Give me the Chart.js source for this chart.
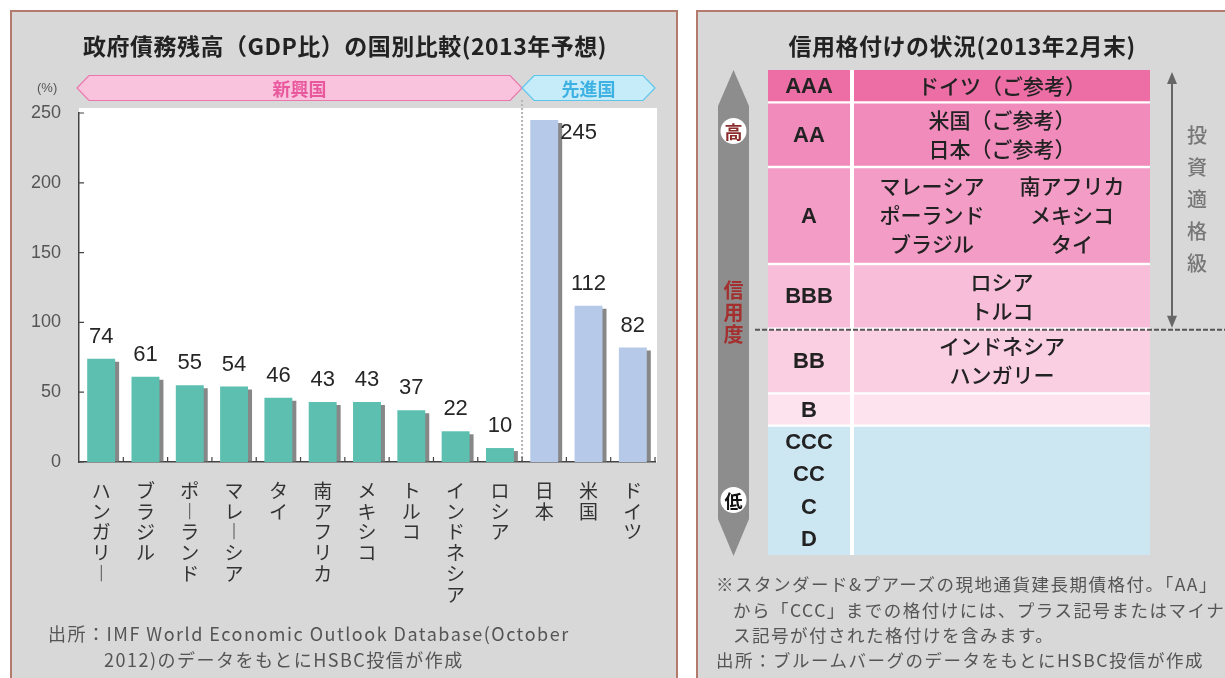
<!DOCTYPE html>
<html>
<head>
<meta charset="utf-8">
<script src="https://cdn.jsdelivr.net/npm/chart.js@4.4.1/dist/chart.umd.min.js"></script>
<style>
  body { margin: 0; width: 1225px; height: 678px; overflow: hidden; background: #fff; position: relative;
         font-family: "Noto Sans CJK JP", sans-serif; }
  .panel { position: absolute; background: #d8d8d8; border: 2px solid #b37b6d; box-sizing: border-box; }
  #p1 { left: 10px; top: 10px; width: 668px; height: 700px; }
  #p2 { left: 696px; top: 10px; width: 560px; height: 700px; }
  canvas { position: absolute; top: 0; }
  .t { position: absolute; white-space: nowrap; color: #555; }
  .title { font-weight: 700; font-size: 23px; color: #222; transform: translateX(-50%); letter-spacing: 0.5px; }
  .src { font-size: 18px; letter-spacing: 1.5px; }
  .note { font-size: 17.5px; letter-spacing: 1.5px; }
</style>
</head>
<body>
<div class="panel" id="p1"></div>
<div class="panel" id="p2"></div>
<canvas id="debtChart" width="690" height="678" style="left:0"></canvas>
<canvas id="ratingChart" width="535" height="678" style="left:690px"></canvas>

<div class="t title" style="left:345px; top:28px;">政府債務残高（GDP比）の国別比較(2013年予想)</div>
<div class="t title" style="left:962px; top:28px;">信用格付けの状況(2013年2月末)</div>
<div class="t" style="left:37px; top:80px; font-size:13px; font-family:'Liberation Sans Narrow','Liberation Sans';">(%)</div>
<div class="t src" style="left:48px; top:620px;">出所：IMF World Economic Outlook Database(October</div>
<div class="t src" style="left:104px; top:646px;">2012)のデータをもとにHSBC投信が作成</div>
<div class="t note" style="left:716px; top:571px;">※スタンダード&amp;プアーズの現地通貨建長期債格付。「AA」</div>
<div class="t note" style="left:733px; top:597px;">から「CCC」までの格付けには、プラス記号またはマイナ</div>
<div class="t note" style="left:733px; top:622px;">ス記号が付された格付けを含みます。</div>
<div class="t note" style="left:716px; top:647px;">出所：ブルームバーグのデータをもとにHSBC投信が作成</div>

<script>
// 左：政府債務残高（GDP比）
const countries = ["ハンガリー", "ブラジル", "ポーランド", "マレーシア", "タイ", "南アフリカ", "メキシコ",
                   "トルコ", "インドネシア", "ロシア", "日本", "米国", "ドイツ"];
const debtRatio = [74, 61, 55, 54, 46, 43, 43, 37, 22, 10, 245, 112, 82];
const groups = ["新興国", "新興国", "新興国", "新興国", "新興国", "新興国", "新興国",
                "新興国", "新興国", "新興国", "先進国", "先進国", "先進国"];
const yTicks = [0, 50, 100, 150, 200, 250];

// 右：信用格付け
const ratings = [["AAA"], ["AA"], ["A"], ["BBB"], ["BB"], ["B"], ["CCC", "CC", "C", "D"]];
const rowLines = [1, 2, 3, 2, 2, 1, 4];
const ratedCountries = [
  ["ドイツ（ご参考）"],
  ["米国（ご参考）", "日本（ご参考）"],
  ["マレーシア", "南アフリカ", "ポーランド", "メキシコ", "ブラジル", "タイ"],
  ["ロシア", "トルコ"],
  ["インドネシア", "ハンガリー"],
  [],
  []
];
const investmentGradeRows = 4;

const groupColors = { "新興国": "#5cbfb0", "先進国": "#b6c9e8" };
const rowColors = ["#ec6ea5", "#f08bbb", "#f39cc6", "#f8bed9", "#facfe2", "#fde3ee", "#cde7f2"];
const numFont = "'Liberation Sans Narrow', 'Liberation Sans', sans-serif";
const jpFont = "'Noto Sans CJK JP', sans-serif";

function hexBand(ctx, x1, x2, yc, h, d) {
  ctx.beginPath();
  ctx.moveTo(x1, yc);
  ctx.lineTo(x1 + d, yc - h / 2);
  ctx.lineTo(x2 - d, yc - h / 2);
  ctx.lineTo(x2, yc);
  ctx.lineTo(x2 - d, yc + h / 2);
  ctx.lineTo(x1 + d, yc + h / 2);
  ctx.closePath();
}

const debtBackground = {
  id: "debtBackground",
  beforeDraw(chart) {
    const { ctx, chartArea: ca, scales: { x } } = chart;
    ctx.save();
    ctx.fillStyle = "#fff";
    ctx.fillRect(ca.left, ca.top - 5, ca.right - ca.left + 2, ca.bottom - ca.top + 5);

    // 新興国 / 先進国 の帯
    const split = groups.findIndex(g => g !== groups[0]);
    const mid = (x.getPixelForValue(split - 1) + x.getPixelForValue(split)) / 2;
    const bands = [
      { name: groups[0], x1: ca.left - 2, x2: mid, fill: "#f9c3dd", stroke: "#ea78ad", text: "#e9579c" },
      { name: groups[split], x1: mid, x2: ca.right, fill: "#c6ebf9", stroke: "#5ec6ea", text: "#3db2e2" }
    ];
    const yc = ca.top - 25;
    bands.forEach(b => {
      hexBand(ctx, b.x1, b.x2, yc, 25, 12);
      ctx.fillStyle = b.fill;
      ctx.fill();
      ctx.lineWidth = 1.2;
      ctx.strokeStyle = b.stroke;
      ctx.stroke();
      ctx.fillStyle = b.text;
      ctx.font = "700 18px " + jpFont;
      ctx.textAlign = "center";
      ctx.textBaseline = "middle";
      ctx.fillText(b.name, (b.x1 + b.x2) / 2, yc + 1);
    });

    // 区切りの点線
    ctx.strokeStyle = "#b5b5b5";
    ctx.lineWidth = 2;
    ctx.setLineDash([2, 2]);
    ctx.beginPath();
    ctx.moveTo(mid, yc + 12);
    ctx.lineTo(mid, ca.bottom);
    ctx.stroke();
    ctx.restore();
  },
  beforeDatasetsDraw(chart) {
    const ctx = chart.ctx;
    ctx.save();
    ctx.shadowColor = "rgba(105,105,105,0.8)";
    ctx.shadowOffsetX = 4;
    ctx.shadowOffsetY = 3;
    ctx.shadowBlur = 0;
  },
  afterDatasetsDraw(chart) {
    const { ctx, chartArea: ca, scales: { x, y } } = chart;
    ctx.restore();
    ctx.save();
    // 値ラベル
    ctx.fillStyle = "#262626";
    ctx.font = "22px " + numFont;
    ctx.textBaseline = "middle";
    chart.getDatasetMeta(0).data.forEach((bar, i) => {
      const v = debtRatio[i];
      if (v > 0.9 * y.max) {
        ctx.textAlign = "left";
        ctx.fillText(v, bar.x + bar.width / 2 + 2, bar.y + 13);
      } else {
        ctx.textAlign = "center";
        ctx.fillText(v, bar.x, bar.y - 22);
      }
    });
    // 目盛りの小さな線
    ctx.strokeStyle = "#444";
    ctx.lineWidth = 1.2;
    ctx.beginPath();
    yTicks.forEach(v => {
      const py = y.getPixelForValue(v);
      ctx.moveTo(ca.left, py);
      ctx.lineTo(ca.left + 5, py);
    });
    const step = countries.length > 1 ? x.getPixelForValue(1) - x.getPixelForValue(0) : 0;
    for (let i = 1; i <= countries.length; i++) {
      const bx = Math.min(x.getPixelForValue(i - 1) + step / 2, ca.right);
      ctx.moveTo(bx, ca.bottom);
      ctx.lineTo(bx, ca.bottom - 5);
    }
    ctx.stroke();
    ctx.restore();
  }
};

new Chart(document.getElementById("debtChart"), {
  type: "bar",
  data: {
    labels: countries,
    datasets: [{
      data: debtRatio,
      backgroundColor: groups.map(g => groupColors[g]),
      categoryPercentage: 1,
      barPercentage: 0.63
    }]
  },
  options: {
    responsive: false,
    animation: false,
    layout: { padding: { top: 113, right: 35, left: 0, bottom: 0 } },
    plugins: { legend: { display: false }, tooltip: { enabled: false } },
    scales: {
      x: {
        grid: { display: false },
        border: { display: true, color: "#444", width: 1.5 },
        afterFit(s) { s.height = 216; },
        ticks: {
          autoSkip: false, maxRotation: 0, minRotation: 0, padding: 10,
          color: "#333",
          font: { family: jpFont, size: 19, lineHeight: 1.1 },
          callback(v, i) { return Array.from(countries[i]).map(c => (c === "ー" ? "︱" : c)); }
        }
      },
      y: {
        min: 0, max: 250,
        grid: { display: false },
        border: { display: true, color: "#444", width: 1.5 },
        afterFit(s) { s.width = 79; },
        afterBuildTicks(s) { s.ticks = yTicks.map(v => ({ value: v })); },
        ticks: { padding: 10, color: "#555", font: { family: numFont, size: 18 } }
      }
    }
  },
  plugins: [debtBackground]
});

// 右：格付け表
const ratingDecor = {
  id: "ratingDecor",
  afterDatasetsDraw(chart) {
    const { ctx, chartArea: ca } = chart;
    const colSplit = ca.left + 82;
    ctx.save();
    // 列の区切り
    ctx.fillStyle = "#fff";
    ctx.fillRect(colSplit, ca.top, 4, ca.bottom - ca.top);

    ctx.fillStyle = "#222";
    ctx.textAlign = "center";
    ctx.textBaseline = "middle";
    ratings.forEach((r, i) => {
      const el = chart.getDatasetMeta(i).data[0];
      const top = Math.min(el.y, el.base), bot = Math.max(el.y, el.base);
      const step = Math.min((bot - top) / rowLines[i], 29);
      const yc = (top + bot) / 2;
      // 格付け
      const rStep = r.length > 1 ? (bot - top) / r.length : step;
      ctx.font = "700 22px 'Liberation Sans', sans-serif";
      r.forEach((s, k) => ctx.fillText(s, (ca.left + colSplit) / 2, yc + (k - (r.length - 1) / 2) * rStep + 1));
      // 国名
      ctx.font = "500 21px " + jpFont;
      const list = ratedCountries[i];
      const cx = (colSplit + 4 + ca.right) / 2;
      if (list.length > rowLines[i]) {
        const half = (ca.right - colSplit - 4) / 2;
        for (let k = 0; k < list.length; k++) {
          const line = Math.floor(k / 2), col = k % 2;
          const px = colSplit + 4 + half * col + half / 2 + (col === 0 ? 4 : -4);
          ctx.fillText(list[k], px, yc + (line - (rowLines[i] - 1) / 2) * step);
        }
      } else {
        list.forEach((s, k) => ctx.fillText(s, cx, yc + (k - (list.length - 1) / 2) * step));
      }
    });

    // 左の矢印（信用度）
    const ax1 = ca.left - 50, ax2 = ca.left - 19, axc = (ax1 + ax2) / 2;
    ctx.fillStyle = "#8d8d8d";
    ctx.beginPath();
    ctx.moveTo(axc, ca.top);
    ctx.lineTo(ax2, ca.top + 36);
    ctx.lineTo(ax2, ca.bottom - 36);
    ctx.lineTo(axc, ca.bottom + 1);
    ctx.lineTo(ax1, ca.bottom - 36);
    ctx.lineTo(ax1, ca.top + 36);
    ctx.closePath();
    ctx.fill();
    [["高", ca.top + 61, "#8a2a2a"], ["低", ca.top + 430, "#111"]].forEach(([s, cy, col]) => {
      ctx.fillStyle = "#fff";
      ctx.beginPath();
      ctx.arc(axc, cy, 13, 0, Math.PI * 2);
      ctx.fill();
      ctx.fillStyle = col;
      ctx.font = "700 18px " + jpFont;
      ctx.fillText(s, axc, cy + 1);
    });
    ctx.fillStyle = "#a3302f";
    ctx.font = "700 20px " + jpFont;
    Array.from("信用度").forEach((s, k) => ctx.fillText(s, axc, ca.top + 220 + k * 22));

    // 投資適格級の境界
    const cut = chart.getDatasetMeta(investmentGradeRows - 1).data[0].y + 1;
    ctx.strokeStyle = "#555";
    ctx.lineWidth = 2;
    ctx.setLineDash([5, 2]);
    ctx.beginPath();
    ctx.moveTo(ca.left - 13, cut);
    ctx.lineTo(chart.width, cut);
    ctx.stroke();
    ctx.setLineDash([]);

    const rx = ca.right + 22;
    ctx.strokeStyle = "#666";
    ctx.fillStyle = "#666";
    ctx.lineWidth = 2;
    ctx.beginPath();
    ctx.moveTo(rx, ca.top + 4);
    ctx.lineTo(rx, cut - 4);
    ctx.stroke();
    [[ca.top + 2, 1], [cut - 2, -1]].forEach(([ty, dir]) => {
      ctx.beginPath();
      ctx.moveTo(rx, ty);
      ctx.lineTo(rx - 5, ty + dir * 12);
      ctx.lineTo(rx + 5, ty + dir * 12);
      ctx.closePath();
      ctx.fill();
    });
    ctx.fillStyle = "#777";
    ctx.font = "500 20px " + jpFont;
    const label = Array.from("投資適格級");
    const midY = (ca.top + cut) / 2;
    label.forEach((s, k) => ctx.fillText(s, rx + 25, midY + (k - (label.length - 1) / 2) * 32));
    ctx.restore();
  }
};

new Chart(document.getElementById("ratingChart"), {
  type: "bar",
  data: {
    labels: ["格付け"],
    datasets: ratings.map((r, i) => ({
      label: r.join("/"),
      data: [rowLines[i]],
      backgroundColor: rowColors[i],
      borderColor: "#fff",
      borderWidth: { top: i === 0 ? 0 : 1.5, bottom: i === ratings.length - 1 ? 0 : 1.5, left: 0, right: 0 },
      borderSkipped: false,
      categoryPercentage: 1,
      barPercentage: 1
    }))
  },
  options: {
    responsive: false,
    animation: false,
    layout: { padding: { left: 78, right: 75, top: 70, bottom: 123 } },
    plugins: { legend: { display: false }, tooltip: { enabled: false } },
    scales: {
      x: { display: false, stacked: true },
      y: { display: false, stacked: true, reverse: true, min: 0, max: rowLines.reduce((a, b) => a + b, 0) }
    }
  },
  plugins: [ratingDecor]
});
</script>
</body>
</html>
